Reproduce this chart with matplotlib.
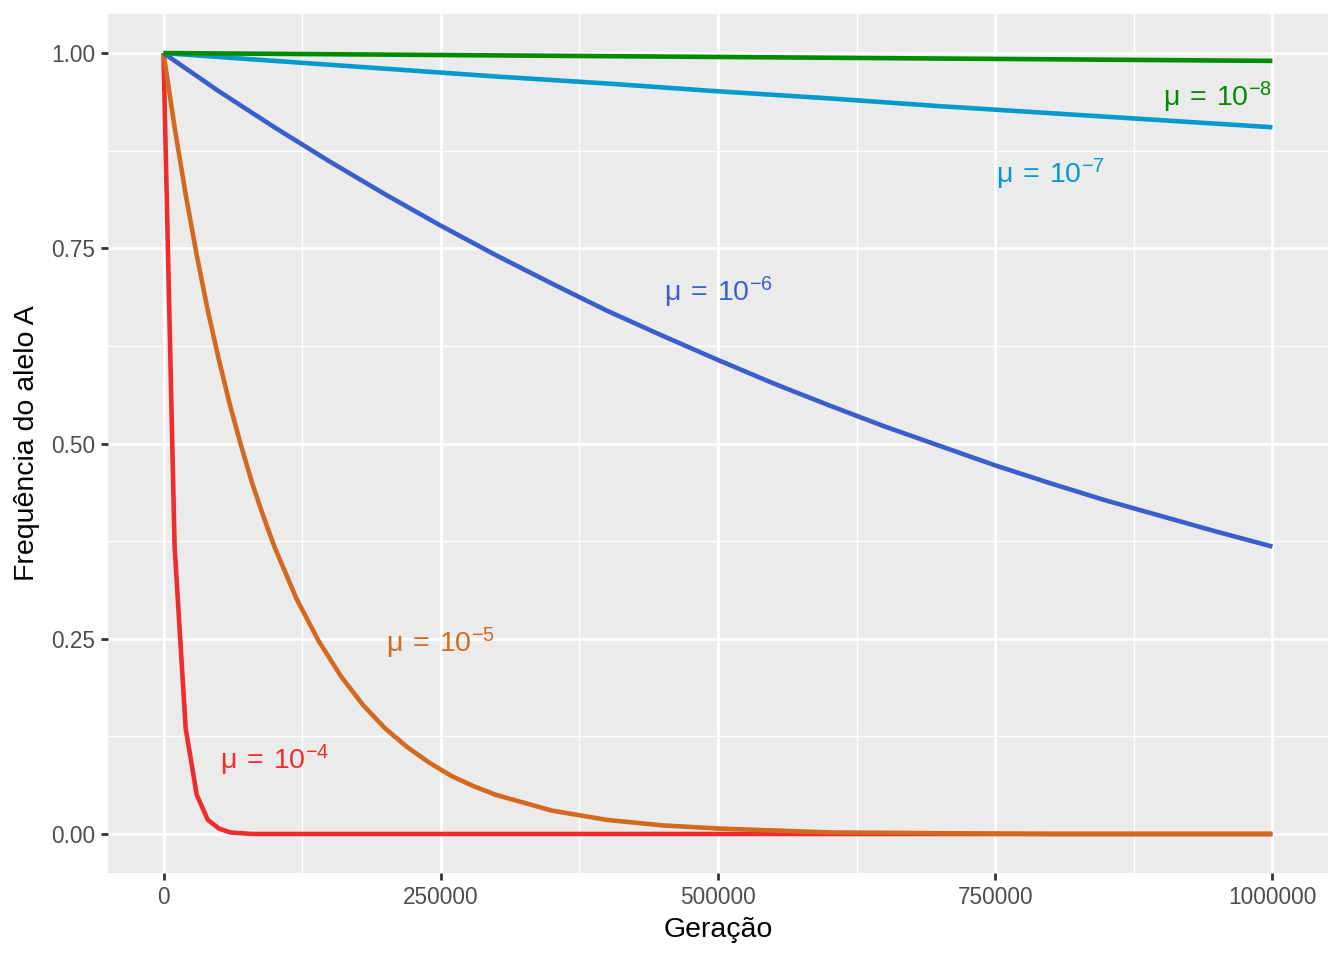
import matplotlib.pyplot as plt

plt.rcParams['font.family'] = ['Liberation Sans', 'DejaVu Sans']
plt.rcParams['mathtext.fontset'] = 'custom'
plt.rcParams['mathtext.rm'] = 'Liberation Sans'
plt.rcParams['mathtext.it'] = 'Liberation Sans'

t_1e4 = [0, 10000, 20000, 30000, 40000, 50000, 60000, 70000, 80000, 100000, 1000000]
p_1e4 = [1.0, 0.368, 0.135, 0.050, 0.018, 0.007, 0.002, 0.001, 0.0, 0.0, 0.0]

t_1e5 = [0, 10000, 20000, 30000, 40000, 50000, 60000, 70000, 80000, 90000, 100000,
         120000, 140000, 160000, 180000, 200000, 220000, 240000, 260000, 280000,
         300000, 350000, 400000, 450000, 500000, 600000, 700000, 800000, 1000000]
p_1e5 = [1.0, 0.905, 0.819, 0.741, 0.670, 0.607, 0.549, 0.497, 0.449, 0.407, 0.368,
         0.301, 0.247, 0.202, 0.165, 0.135, 0.111, 0.091, 0.074, 0.061,
         0.050, 0.030, 0.018, 0.011, 0.007, 0.002, 0.001, 0.0, 0.0]

t_1e6 = [0, 50000, 100000, 150000, 200000, 250000, 300000, 350000, 400000, 450000,
         500000, 550000, 600000, 650000, 700000, 750000, 800000, 850000, 900000,
         950000, 1000000]
p_1e6 = [1.0, 0.951, 0.905, 0.861, 0.819, 0.779, 0.741, 0.705, 0.670, 0.638,
         0.607, 0.577, 0.549, 0.522, 0.497, 0.472, 0.449, 0.427, 0.407,
         0.387, 0.368]

t_dec = [0, 100000, 200000, 300000, 400000, 500000, 600000, 700000, 800000, 900000, 1000000]
p_1e7 = [1.0, 0.990, 0.980, 0.970, 0.961, 0.951, 0.942, 0.932, 0.923, 0.914, 0.905]
p_1e8 = [1.0, 0.999, 0.998, 0.997, 0.996, 0.995, 0.994, 0.993, 0.992, 0.991, 0.990]

series = [
    (t_1e4, p_1e4, '#EE2C2C'),
    (t_1e5, p_1e5, '#D2691E'),
    (t_1e6, p_1e6, '#3A5FCD'),
    (t_dec, p_1e7, '#009ACD'),
    (t_dec, p_1e8, '#008B00'),
]

labels = [r'$\mathregular{\mu\:=\:10^{-4}}$', r'$\mathregular{\mu\:=\:10^{-5}}$',
          r'$\mathregular{\mu\:=\:10^{-6}}$', r'$\mathregular{\mu\:=\:10^{-7}}$',
          r'$\mathregular{\mu\:=\:10^{-8}}$']
label_x = [100000, 250000, 500000, 800000, 950000]
label_y = [0.094, 0.244, 0.694, 0.844, 0.943]

fig = plt.figure(figsize=(13.44, 9.6), dpi=100)
ax = fig.add_axes([0.0804, 0.0906, 0.9076, 0.8948])
ax.set_facecolor('#EBEBEB')

for t, p, c in series:
    ax.plot(t, p, color=c, lw=3.3, solid_capstyle='butt', zorder=3)

for lab, x, y, (_, _, c) in zip(labels, label_x, label_y, series):
    ax.text(x, y, lab, color=c, fontsize=20.5, ha='center', va='center', zorder=4)

ax.set_xlim(-50000, 1050000)
ax.set_ylim(-0.05, 1.05)
ax.set_xticks([0, 250000, 500000, 750000, 1000000])
ax.set_xticklabels(['0', '250000', '500000', '750000', '1000000'])
ax.set_yticks([0, 0.25, 0.5, 0.75, 1.0])
ax.set_yticklabels(['0.00', '0.25', '0.50', '0.75', '1.00'])
ax.set_xticks([125000, 375000, 625000, 875000], minor=True)
ax.set_yticks([0.125, 0.375, 0.625, 0.875], minor=True)

ax.grid(which='major', color='white', lw=2)
ax.grid(which='minor', color='white', lw=1)
ax.set_axisbelow(True)
for s in ax.spines.values():
    s.set_visible(False)

ax.tick_params(which='major', length=5.3, width=2, color='#333333',
               labelsize=16.3, labelcolor='#4D4D4D', pad=4)
ax.tick_params(which='minor', length=0)

ax.set_xlabel('Geração', fontsize=20.5, color='black', labelpad=6)
ax.set_ylabel('Frequência do alelo A', fontsize=20.5, color='black', labelpad=8)

fig.savefig('out.png', dpi=100)
